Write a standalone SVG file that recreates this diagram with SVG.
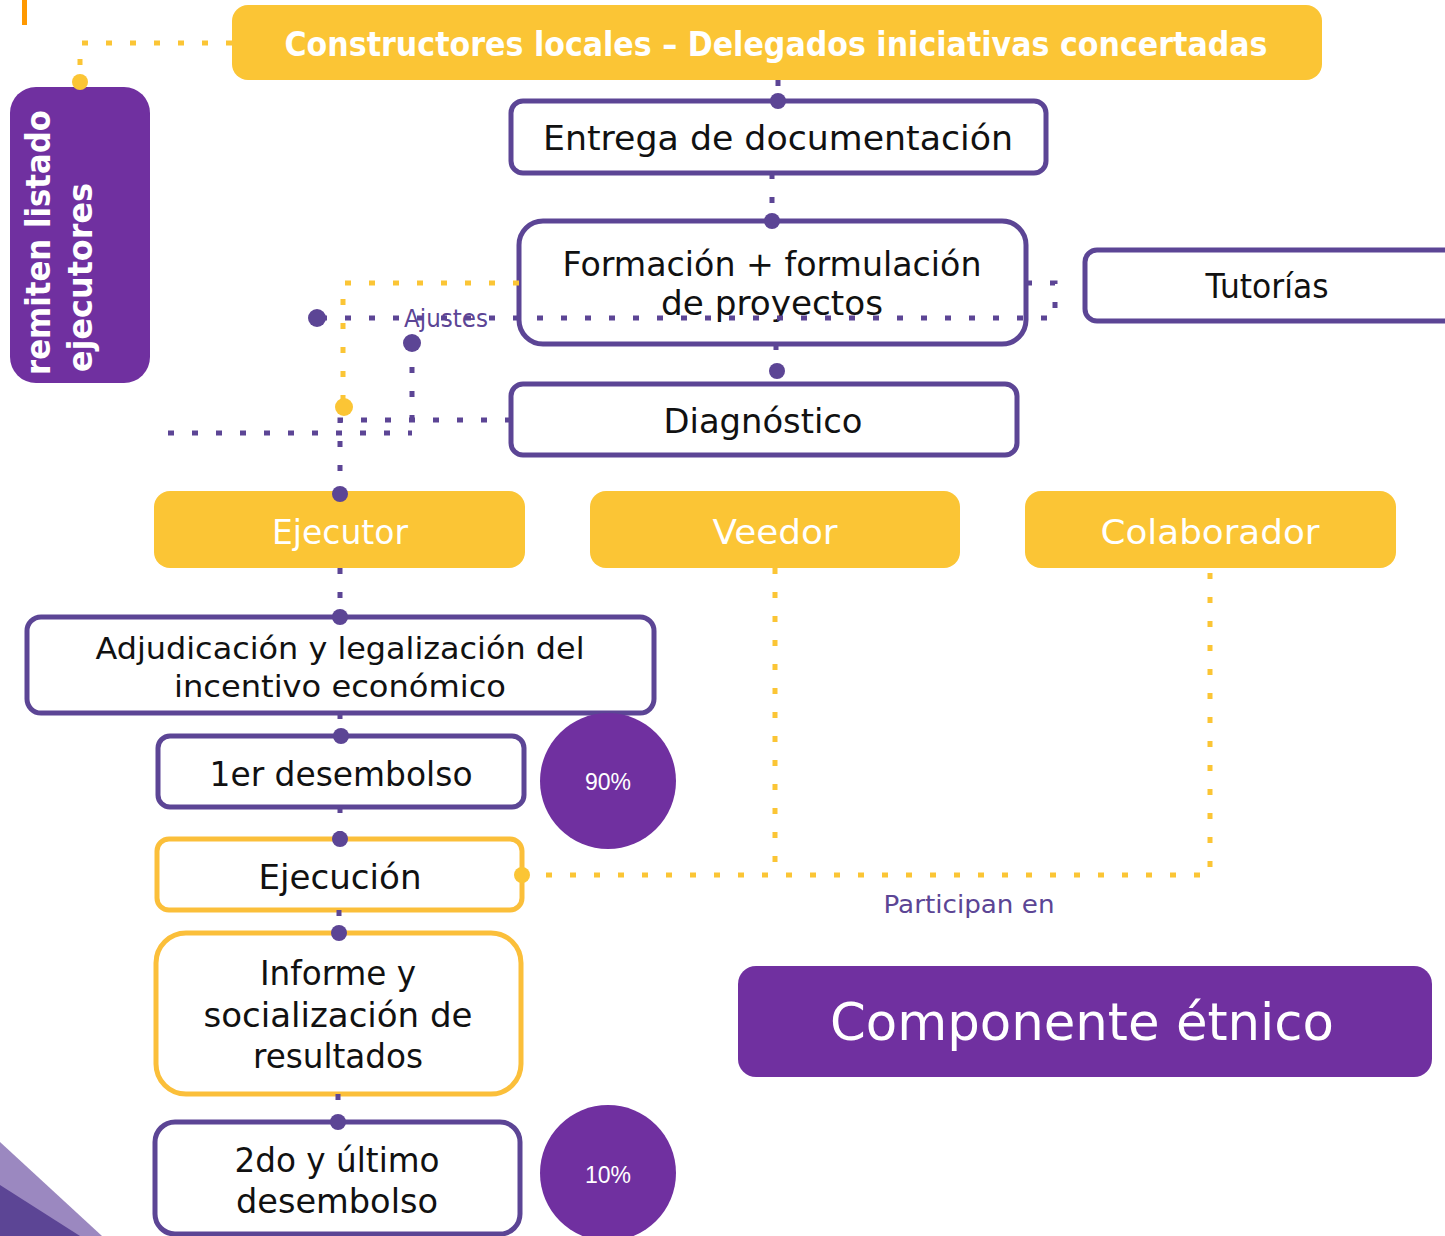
<svg xmlns="http://www.w3.org/2000/svg" width="1445" height="1236" viewBox="0 0 1445 1236">
<style>
  .pbox { fill: #ffffff; stroke: #5C4595; stroke-width: 5; }
  .ybox { fill: #ffffff; stroke: #FBBF3A; stroke-width: 5; }
  .yfill { fill: #FBC535; }
  .pfill { fill: #7030A0; }
  .t { font-family: "DejaVu Sans", "Liberation Sans", sans-serif; fill: #111111; text-anchor: middle; }
  .w { font-family: "DejaVu Sans", "Liberation Sans", sans-serif; fill: #ffffff; text-anchor: middle; }
  .b { font-family: "DejaVu Sans", "Liberation Sans", sans-serif; fill: #ffffff; font-weight: bold; }
  .pdot { stroke: #5C4595; stroke-width: 5; fill: none; stroke-dasharray: 6 18; }
  .ydot { stroke: #FBC535; stroke-width: 5; fill: none; stroke-dasharray: 6 18; }
  .pd { fill: #5C4595; }
  .yd { fill: #FBC535; }
</style>

<!-- decorative -->
<rect x="22" y="0" width="5" height="25" fill="#FF9900"/>
<polygon points="0,1142 102,1236 0,1236" fill="#9B88C0"/>
<polygon points="0,1185 80,1236 0,1236" fill="#5C4595"/>

<g id="banner">
  <rect x="232" y="5" width="1090" height="75" rx="16" class="yfill"/>
  <text x="776" y="56" class="b" font-size="33" text-anchor="middle" textLength="983" lengthAdjust="spacingAndGlyphs">Constructores locales – Delegados iniciativas concertadas</text>
</g>

<g id="remiten">
  <rect x="10" y="87" width="140" height="296" rx="26" class="pfill"/>
  <text class="b" font-size="33" transform="translate(50,375) rotate(-90)" textLength="265" lengthAdjust="spacingAndGlyphs">remiten listado</text>
  <text class="b" font-size="33" transform="translate(92,372) rotate(-90)" textLength="189" lengthAdjust="spacingAndGlyphs">ejecutores</text>
</g>

<g id="entrega">
  <rect x="511" y="101" width="535" height="72" rx="12" class="pbox"/>
  <text x="778" y="150" class="t" font-size="33" textLength="470" lengthAdjust="spacingAndGlyphs">Entrega de documentación</text>
</g>

<g id="formacion">
  <rect x="519" y="221" width="507" height="123" rx="24" class="pbox"/>
  <text x="772" y="276" class="t" font-size="33" textLength="419" lengthAdjust="spacingAndGlyphs">Formación + formulación</text>
  <text x="772" y="315" class="t" font-size="33" textLength="222" lengthAdjust="spacingAndGlyphs">de proyectos</text>
</g>

<g id="tutorias">
  <rect x="1085" y="250" width="380" height="71" rx="12" class="pbox"/>
  <text x="1267" y="298" class="t" font-size="33" textLength="123" lengthAdjust="spacingAndGlyphs">Tutorías</text>
</g>

<g id="diagnostico">
  <rect x="511" y="384" width="506" height="71" rx="12" class="pbox"/>
  <text x="763" y="433" class="t" font-size="33" textLength="199" lengthAdjust="spacingAndGlyphs">Diagnóstico</text>
</g>

<g id="ejecutor">
  <rect x="154" y="491" width="371" height="77" rx="16" class="yfill"/>
  <text x="340" y="544" class="w" font-size="33" textLength="136" lengthAdjust="spacingAndGlyphs">Ejecutor</text>
</g>
<g id="veedor">
  <rect x="590" y="491" width="370" height="77" rx="16" class="yfill"/>
  <text x="775" y="544" class="w" font-size="33" textLength="125" lengthAdjust="spacingAndGlyphs">Veedor</text>
</g>
<g id="colaborador">
  <rect x="1025" y="491" width="371" height="77" rx="16" class="yfill"/>
  <text x="1210" y="544" class="w" font-size="33" textLength="219" lengthAdjust="spacingAndGlyphs">Colaborador</text>
</g>

<g id="adjudicacion">
  <rect x="27" y="617" width="627" height="96" rx="14" class="pbox"/>
  <text x="340" y="659" class="t" font-size="31" textLength="489" lengthAdjust="spacingAndGlyphs">Adjudicación y legalización del</text>
  <text x="340" y="697" class="t" font-size="31" textLength="332" lengthAdjust="spacingAndGlyphs">incentivo económico</text>
</g>

<g id="desembolso1">
  <rect x="158" y="736" width="366" height="71" rx="12" class="pbox"/>
  <text x="341" y="786" class="t" font-size="33" textLength="263" lengthAdjust="spacingAndGlyphs">1er desembolso</text>
</g>

<g id="p90">
  <circle cx="608" cy="781" r="68" class="pfill"/>
  <text x="608" y="790" font-family="Liberation Sans, Arial, sans-serif" font-size="23" fill="#ffffff" text-anchor="middle">90%</text>
</g>

<g id="ejecucion">
  <rect x="157" y="839" width="365" height="71" rx="12" class="ybox"/>
  <text x="340" y="889" class="t" font-size="33" textLength="163" lengthAdjust="spacingAndGlyphs">Ejecución</text>
</g>

<g id="informe">
  <rect x="156" y="933" width="365" height="161" rx="30" class="ybox"/>
  <text x="338" y="985" class="t" font-size="33" textLength="156" lengthAdjust="spacingAndGlyphs">Informe y</text>
  <text x="338" y="1027" class="t" font-size="33" textLength="269" lengthAdjust="spacingAndGlyphs">socialización de</text>
  <text x="338" y="1068" class="t" font-size="33" textLength="170" lengthAdjust="spacingAndGlyphs">resultados</text>
</g>

<g id="desembolso2">
  <rect x="155" y="1122" width="365" height="112" rx="20" class="pbox"/>
  <text x="337" y="1172" class="t" font-size="33" textLength="205" lengthAdjust="spacingAndGlyphs">2do y último</text>
  <text x="337" y="1213" class="t" font-size="33" textLength="202" lengthAdjust="spacingAndGlyphs">desembolso</text>
</g>

<g id="p10">
  <circle cx="608" cy="1173" r="68" class="pfill"/>
  <text x="608" y="1183" font-family="Liberation Sans, Arial, sans-serif" font-size="23" fill="#ffffff" text-anchor="middle">10%</text>
</g>

<g id="componente">
  <rect x="738" y="966" width="694" height="111" rx="18" class="pfill"/>
  <text x="1082" y="1040" class="w" font-size="52" textLength="504" lengthAdjust="spacingAndGlyphs">Componente étnico</text>
</g>

<g id="labels">
  <text x="446" y="327" font-family="DejaVu Sans, Liberation Sans, sans-serif" font-size="24" fill="#5C4595" text-anchor="middle" textLength="84" lengthAdjust="spacingAndGlyphs">Ajustes</text>
  <text x="969" y="913" font-family="DejaVu Sans, Liberation Sans, sans-serif" font-size="24" fill="#5C4595" text-anchor="middle" textLength="171" lengthAdjust="spacingAndGlyphs">Participan en</text>
</g>

<g id="connectors">
  <path class="ydot" d="M232,43 H80 V82"/>
  <path class="ydot" d="M519,283 H343 V407"/>
  <path class="ydot" d="M522,875 H1210 V568"/>
  <path class="ydot" d="M775,568 V875"/>
  <path class="pdot" d="M778,80 V101"/>
  <path class="pdot" d="M772,173 V221"/>
  <path class="pdot" d="M776,344 V371"/>
  <path class="pdot" d="M1026,283 H1055 V318 H317"/>
  <path class="pdot" d="M412,343 V433"/>
  <path class="pdot" d="M511,420 H340 V494"/>
  <path class="pdot" d="M168,433 H412"/>
  <path class="pdot" d="M340,568 V617"/>
  <path class="pdot" d="M340,713 V736"/>
  <path class="pdot" d="M340,807 V839"/>
  <path class="pdot" d="M339,910 V933"/>
  <path class="pdot" d="M338,1094 V1122"/>
  <circle cx="80" cy="82" r="8" class="yd"/>
  <circle cx="344" cy="407" r="9" class="yd"/>
  <circle cx="522" cy="875" r="8" class="yd"/>
  <circle cx="778" cy="101" r="8" class="pd"/>
  <circle cx="772" cy="221" r="8" class="pd"/>
  <circle cx="777" cy="371" r="8" class="pd"/>
  <circle cx="317" cy="318" r="9" class="pd"/>
  <circle cx="412" cy="343" r="9" class="pd"/>
  <circle cx="340" cy="494" r="8" class="pd"/>
  <circle cx="340" cy="617" r="8" class="pd"/>
  <circle cx="341" cy="736" r="8" class="pd"/>
  <circle cx="340" cy="839" r="8" class="pd"/>
  <circle cx="339" cy="933" r="8" class="pd"/>
  <circle cx="338" cy="1122" r="8" class="pd"/>
</g>
</svg>
